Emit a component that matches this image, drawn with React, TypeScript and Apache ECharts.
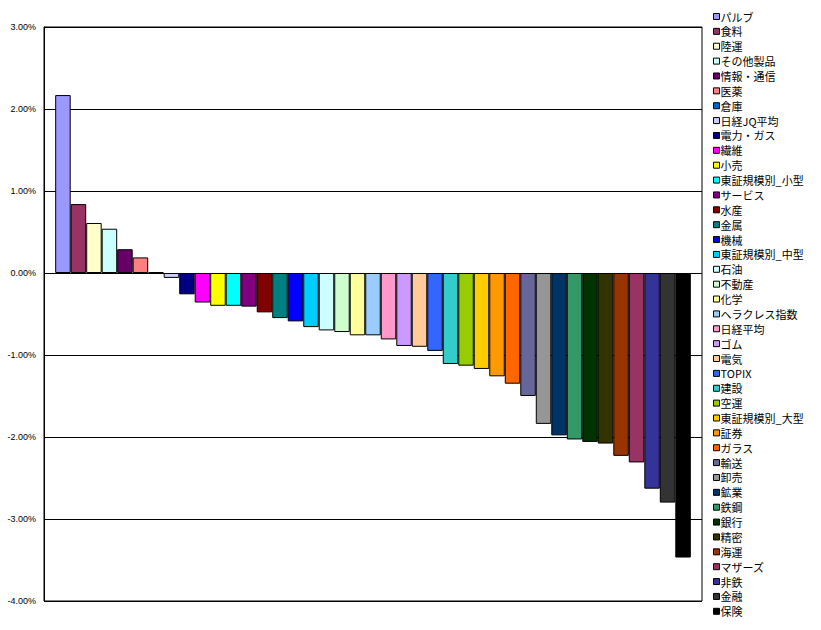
import React, { useEffect, useRef } from "react";
import * as echarts from "echarts";

const categories: string[] = [
  "パルブ", "食料", "陸運", "その他製品", "情報・通信", "医薬", "倉庫", "日経JQ平均", "電力・ガス", "繊維",
  "小売", "東証規模別_小型", "サービス", "水産", "金属", "機械", "東証規模別_中型", "石油", "不動産", "化学",
  "ヘラクレス指数", "日経平均", "ゴム", "電気", "TOPIX", "建設", "空運", "東証規模別_大型", "証券", "ガラス",
  "輸送", "卸売", "鉱業", "鉄鋼", "銀行", "精密", "海運", "マザーズ", "非鉄", "金融", "保険",
];

const values: number[] = [
  2.17, 0.84, 0.61, 0.54, 0.29, 0.19, 0.01, -0.06, -0.26, -0.36,
  -0.40, -0.40, -0.41, -0.48, -0.55, -0.59, -0.66, -0.70, -0.72, -0.76,
  -0.76, -0.81, -0.89, -0.90, -0.95, -1.11, -1.13, -1.17, -1.26, -1.35,
  -1.50, -1.84, -1.98, -2.03, -2.06, -2.08, -2.23, -2.31, -2.63, -2.80, -3.47,
];

const colors: string[] = [
  "#9999FF", "#993366", "#FFFFCC", "#CCFFFF", "#660066", "#FF8080", "#0066CC", "#CCCCFF", "#000080", "#FF00FF",
  "#FFFF00", "#00FFFF", "#800080", "#800000", "#008080", "#0000FF", "#00CCFF", "#CCFFFF", "#CCFFCC", "#FFFF99",
  "#99CCFF", "#FF99CC", "#CC99FF", "#FFCC99", "#3366FF", "#33CCCC", "#99CC00", "#FFCC00", "#FF9900", "#FF6600",
  "#666699", "#969696", "#003366", "#339966", "#003300", "#333300", "#993300", "#993366", "#333399", "#333333", "#000000",
];

const axisMin = -4;
const axisMax = 3;
const axisInterval = 1;

export default function App() {
  const ref = useRef<HTMLDivElement>(null);
  useEffect(() => {
    if (!ref.current) return;
    const chart = echarts.init(ref.current, null, { renderer: "svg" });
    const series = categories.map((name, i) => ({
      type: "bar" as const,
      name,
      data: [values[i]],
      barGap: "0%",
      barCategoryGap: "3.4%",
      itemStyle: { color: colors[i], borderColor: "#000", borderWidth: 1 },
    }));
    chart.setOption({
      animation: false,
      backgroundColor: "#fff",
      grid: {
        left: 44,
        top: 27,
        right: 119,
        bottom: 29,
        show: true,
        borderColor: "#000",
        borderWidth: 1,
        backgroundColor: "transparent",
      },
      legend: {
        orient: "vertical",
        left: 713,
        top: 11,
        padding: 0,
        itemWidth: 6,
        itemHeight: 6,
        itemGap: 3.87,
        icon: "rect",
        itemStyle: { borderColor: "#000", borderWidth: 1 },
        textStyle: {
          fontFamily: "Noto Sans CJK JP",
          fontSize: 11,
          lineHeight: 11,
          color: "#000",
          padding: [0, 0, 0, -4],
        },
        data: categories,
      },
      xAxis: {
        type: "category",
        data: [""],
        axisLine: { show: false },
        axisTick: { show: false },
        axisLabel: { show: false },
        splitLine: { show: false },
      },
      yAxis: {
        type: "value",
        min: axisMin,
        max: axisMax,
        interval: axisInterval,
        axisLine: { show: true, lineStyle: { color: "#000", width: 1 } },
        axisTick: { show: false },
        axisLabel: {
          formatter: (v: number) => v.toFixed(2) + "%",
          fontSize: 9,
          fontFamily: "Liberation Sans",
          color: "#000",
          margin: 8,
        },
        splitLine: { show: true, lineStyle: { color: "#000", width: 1 } },
      },
      series,
    });
    return () => chart.dispose();
  }, []);
  return (
    <div
      ref={ref}
      style={{ position: "absolute", left: 0, top: 0, width: 821, height: 630, background: "#fff" }}
    />
  );
}
